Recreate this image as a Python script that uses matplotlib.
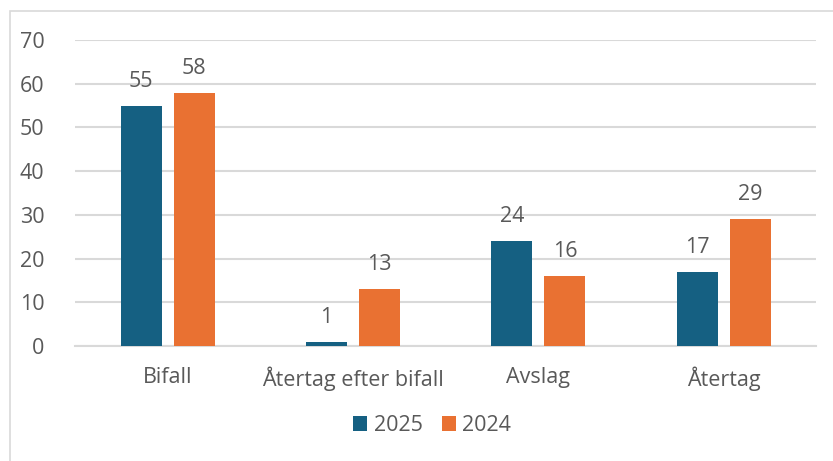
import matplotlib.pyplot as plt
import matplotlib.patches as mpatches
import numpy as np

categories = ['Bifall', 'Återtag efter bifall', 'Avslag', 'Återtag']
values_2025 = [55, 1, 24, 17]
values_2024 = [58, 13, 16, 29]
series_labels = ['2025', '2024']

plt.rcParams['font.family'] = ['Open Sans', 'DejaVu Sans']
text_color = '#595959'
blue = '#156082'
orange = '#E97132'
fs = 15.5

fig = plt.figure(figsize=(8.33, 4.61), dpi=100)
ax = fig.add_axes([0.09, 0.2495, 0.89, 0.6635])

# yttre ram (som i Excel)
fig.add_artist(mpatches.Rectangle((10 / 833, -0.1), 1.2, 1 - 11 / 461 + 0.1,
                                  transform=fig.transFigure, fill=False,
                                  edgecolor='#d9d9d9', linewidth=1.2))

x = np.arange(len(categories))
w = 0.222
off = 0.143
b1 = ax.bar(x - off, values_2025, w, color=blue, label=series_labels[0], zorder=3)
b2 = ax.bar(x + off, values_2024, w, color=orange, label=series_labels[1], zorder=3)

for bars in (b1, b2):
    ax.bar_label(bars, padding=10, fontsize=fs, color=text_color)

ax.set_xlim(-0.5, len(categories) - 0.5)
ax.set_ylim(0, 70)
ax.set_yticks(range(0, 71, 10))
ax.set_xticks(x)
ax.set_xticklabels(categories)
ax.yaxis.grid(True, color='#d9d9d9', linewidth=1.5, zorder=0)
ax.set_axisbelow(True)
for s in ['top', 'right', 'left']:
    ax.spines[s].set_visible(False)
ax.spines['bottom'].set_color('#d9d9d9')
ax.spines['bottom'].set_linewidth(1.5)
ax.tick_params(axis='both', length=0, labelsize=fs, colors=text_color)
ax.tick_params(axis='x', pad=15)
ax.tick_params(axis='y', pad=22)

leg = fig.legend(loc='lower center', bbox_to_anchor=(0.519, 0.012), ncol=2, frameon=False,
                 fontsize=fs, handlelength=0.65, handleheight=0.65,
                 handletextpad=0.3, columnspacing=0.9)
for t in leg.get_texts():
    t.set_color(text_color)

fig.savefig('out.png', dpi=100)
